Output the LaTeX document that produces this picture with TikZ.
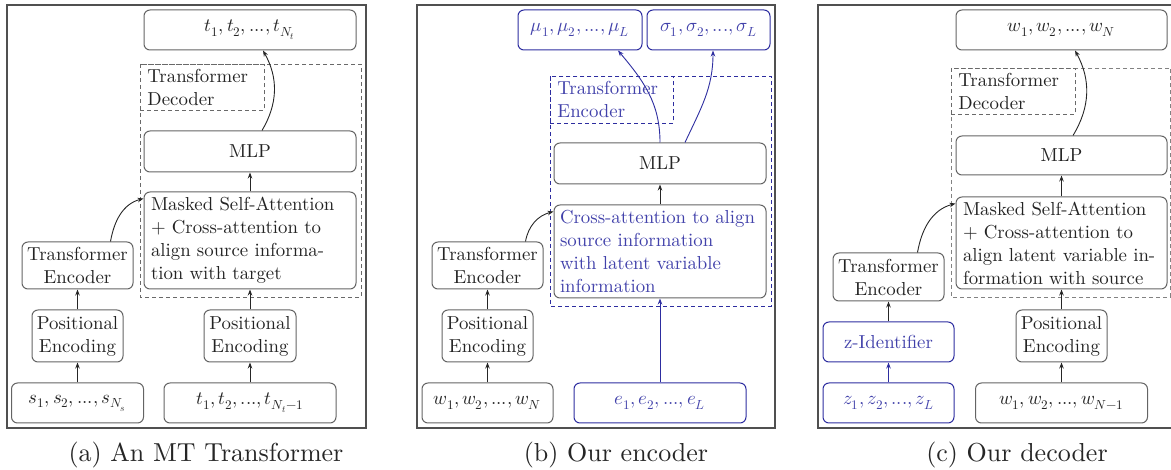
\documentclass[tikz,border=0pt]{standalone}
\usepackage{fontspec}
\usepackage{unicode-math}
\setmainfont{lmroman10-regular.otf}
\setmathfont{latinmodern-math.otf}
\usetikzlibrary{arrows.meta,calc}
\definecolor{gbord}{RGB}{100,100,100}
\definecolor{gtext}{RGB}{35,35,35}
\definecolor{bbord}{RGB}{45,45,160}
\definecolor{btext}{RGB}{65,65,170}
\definecolor{framec}{RGB}{80,80,80}
\definecolor{dashg}{RGB}{105,105,105}
\definecolor{dashl}{RGB}{130,130,130}
\tikzset{
  every node/.style={font=\fontsize{18.8}{23}\selectfont},
  box/.style={draw=gbord, rounded corners=6pt, line width=1pt, text=gtext, inner sep=0pt, align=center},
  bbox/.style={box, draw=bbord, text=btext},
  frame/.style={draw=framec, line width=1.4pt},
  dbox/.style={draw=dashg, line width=0.9pt, dash pattern=on 4pt off 3pt},
  lbl/.style={dbox, inner xsep=7pt, inner ysep=0pt, text width=110pt, align=left, anchor=north west, text=gtext},
  arr/.style={-{Stealth[length=6pt,width=4.5pt]}, line width=0.9pt, draw=black!85},
  barr/.style={arr, draw=bbord},
  captxt/.style={font=\fontsize{26}{30}\selectfont, text=black!85}
}
\begin{document}
\begin{tikzpicture}[x=1pt,y=1pt]
\useasboundingbox (0,0) rectangle (1171,-470);
\begin{scope}
\clip (0,0) rectangle (1171,-470);
% ---------------- panel (a)
\draw[frame] (7,-5) rectangle (366,-428);
\draw[dbox] (140,-64) rectangle (361,-297);
\node[lbl, minimum height=46pt] (lab1) at (140,-64) {Transformer\\Decoder};
\node[box, minimum width=212pt, minimum height=40pt] (tout) at (250,-30) {$t_1,t_2,...,t_{N_t}$};
\node[box, minimum width=212pt, minimum height=41pt] (mlp1) at (250,-151.5) {MLP};
\node[box, minimum width=212pt, minimum height=97pt, text width=198pt, inner xsep=7pt, align=left] (mask1) at (250,-240.5) {Masked Self-Attention\\+ Cross-attention to\\align source informa-\\tion with target};
\node[box, minimum width=111pt, minimum height=47pt] (te1) at (77.5,-265.5) {Transformer\\Encoder};
\node[box, minimum width=91pt, minimum height=52pt] (pe1) at (77.5,-336) {Positional\\Encoding};
\node[box, minimum width=132pt, minimum height=40pt] (sin) at (77.5,-403) {$s_1,s_2,...,s_{N_s}$};
\node[box, minimum width=92pt, minimum height=52pt] (pe1b) at (250,-336) {Positional\\Encoding};
\node[box, minimum width=172pt, minimum height=40pt] (tin) at (250,-403) {$t_1,t_2,...,t_{N_t-1}$};
\node[captxt] (capa) at (206,-455) {(a) An MT Transformer};
\draw[arr] (sin) -- (pe1);
\draw[arr] (pe1) -- (te1);
\draw[arr] (tin) -- (pe1b);
\draw[arr] (pe1b) -- (mask1);
\draw[arr] (mask1) -- (mlp1);
\draw[arr] ([xshift=-23pt]te1.north east) to[out=80,in=195] ([yshift=-7pt]mask1.north west);
\draw[arr] ([xshift=12pt]mlp1.north) to[bend right=30] ([xshift=13pt]tout.south);
% ---------------- panel (b)
\draw[frame] (417,-5) rectangle (775,-428);
\draw[dbox, draw=bbord] (550,-76) rectangle (771,-306);
\node[lbl, draw=bbord, text=btext, minimum height=47pt, text width=109pt] (lab2) at (550,-76) {Transformer\\Encoder};
\node[bbox, minimum width=124pt, minimum height=40pt] (mu) at (580,-30) {$\mu_1,\mu_2,...,\mu_L$};
\node[bbox, minimum width=123pt, minimum height=40pt] (sig) at (708.5,-30) {$\sigma_1,\sigma_2,...,\sigma_L$};
\node[box, minimum width=212pt, minimum height=41pt] (mlp2) at (660,-163.5) {MLP};
\node[box, text=btext, minimum width=212pt, minimum height=93pt, text width=200pt, inner xsep=6pt, align=left] (cross) at (660,-251.5) {Cross-attention to align\\source information\\with latent variable\\information};
\node[box, minimum width=111pt, minimum height=47pt] (te2) at (487.5,-265.5) {Transformer\\Encoder};
\node[box, minimum width=91pt, minimum height=52pt] (pe2) at (487.5,-336) {Positional\\Encoding};
\node[box, minimum width=131pt, minimum height=40pt] (win2) at (487.5,-403) {$w_1,w_2,...,w_N$};
\node[bbox, minimum width=172pt, minimum height=40pt] (ein) at (660,-403) {$e_1,e_2,...,e_L$};
\node[captxt] (capb) at (616,-455) {(b) Our encoder};
\draw[arr] (win2) -- (pe2);
\draw[arr] (pe2) -- (te2);
\draw[barr] (ein) -- (cross);
\draw[arr] (cross) -- (mlp2);
\draw[arr] ([xshift=-18pt]te2.north east) to[out=80,in=195] ([yshift=-7pt]cross.north west);
\draw[barr] (mlp2.north) to[out=90,in=-50] ([xshift=38pt]mu.south);
\draw[barr] ([xshift=25pt]mlp2.north) to[out=65,in=-90] ([xshift=4.5pt]sig.south);
% ---------------- panel (c)
\draw[frame] (818,-5) rectangle (1185,-428);
\draw[dbox, draw=dashl] (951,-68) rectangle (1170.5,-297);
\node[lbl, minimum height=46pt] (lab3) at (951,-68) {Transformer\\Decoder};
\node[box, minimum width=211pt, minimum height=40pt] (wout) at (1061.5,-30) {$w_1,w_2,...,w_N$};
\node[box, minimum width=211pt, minimum height=39pt] (mlp3) at (1061.5,-155.5) {MLP};
\node[box, minimum width=211pt, minimum height=92pt, text width=197pt, inner xsep=7pt, align=left] (mask3) at (1061.5,-243) {Masked Self-Attention\\+ Cross-attention to\\align latent variable in-\\formation with source};
\node[box, minimum width=111pt, minimum height=48pt] (te3) at (888.5,-277) {Transformer\\Encoder};
\node[bbox, minimum width=131pt, minimum height=40pt] (zid) at (888.5,-342) {z-Identifier};
\node[bbox, minimum width=131pt, minimum height=40pt] (zin) at (888.5,-403) {$z_1,z_2,...,z_L$};
\node[box, minimum width=91pt, minimum height=52pt] (pe3) at (1061.5,-336) {Positional\\Encoding};
\node[box, minimum width=172pt, minimum height=40pt] (win3) at (1061.5,-403) {$w_1,w_2,...,w_{N-1}$};
\node[captxt] (capc) at (1017,-455) {(c) Our decoder};
\draw[barr] (zin) -- (zid);
\draw[arr] (zid) -- (te3);
\draw[arr] (win3) -- (pe3);
\draw[arr] (pe3) -- (mask3);
\draw[arr] (mask3) -- (mlp3);
\draw[arr] ([xshift=-27pt]te3.north east) to[out=80,in=195] ([yshift=-7pt]mask3.north west);
\draw[arr] ([xshift=11.5pt]mlp3.north) to[bend right=30] ([xshift=13.5pt]wout.south);
\end{scope}
\end{tikzpicture}
\end{document}
